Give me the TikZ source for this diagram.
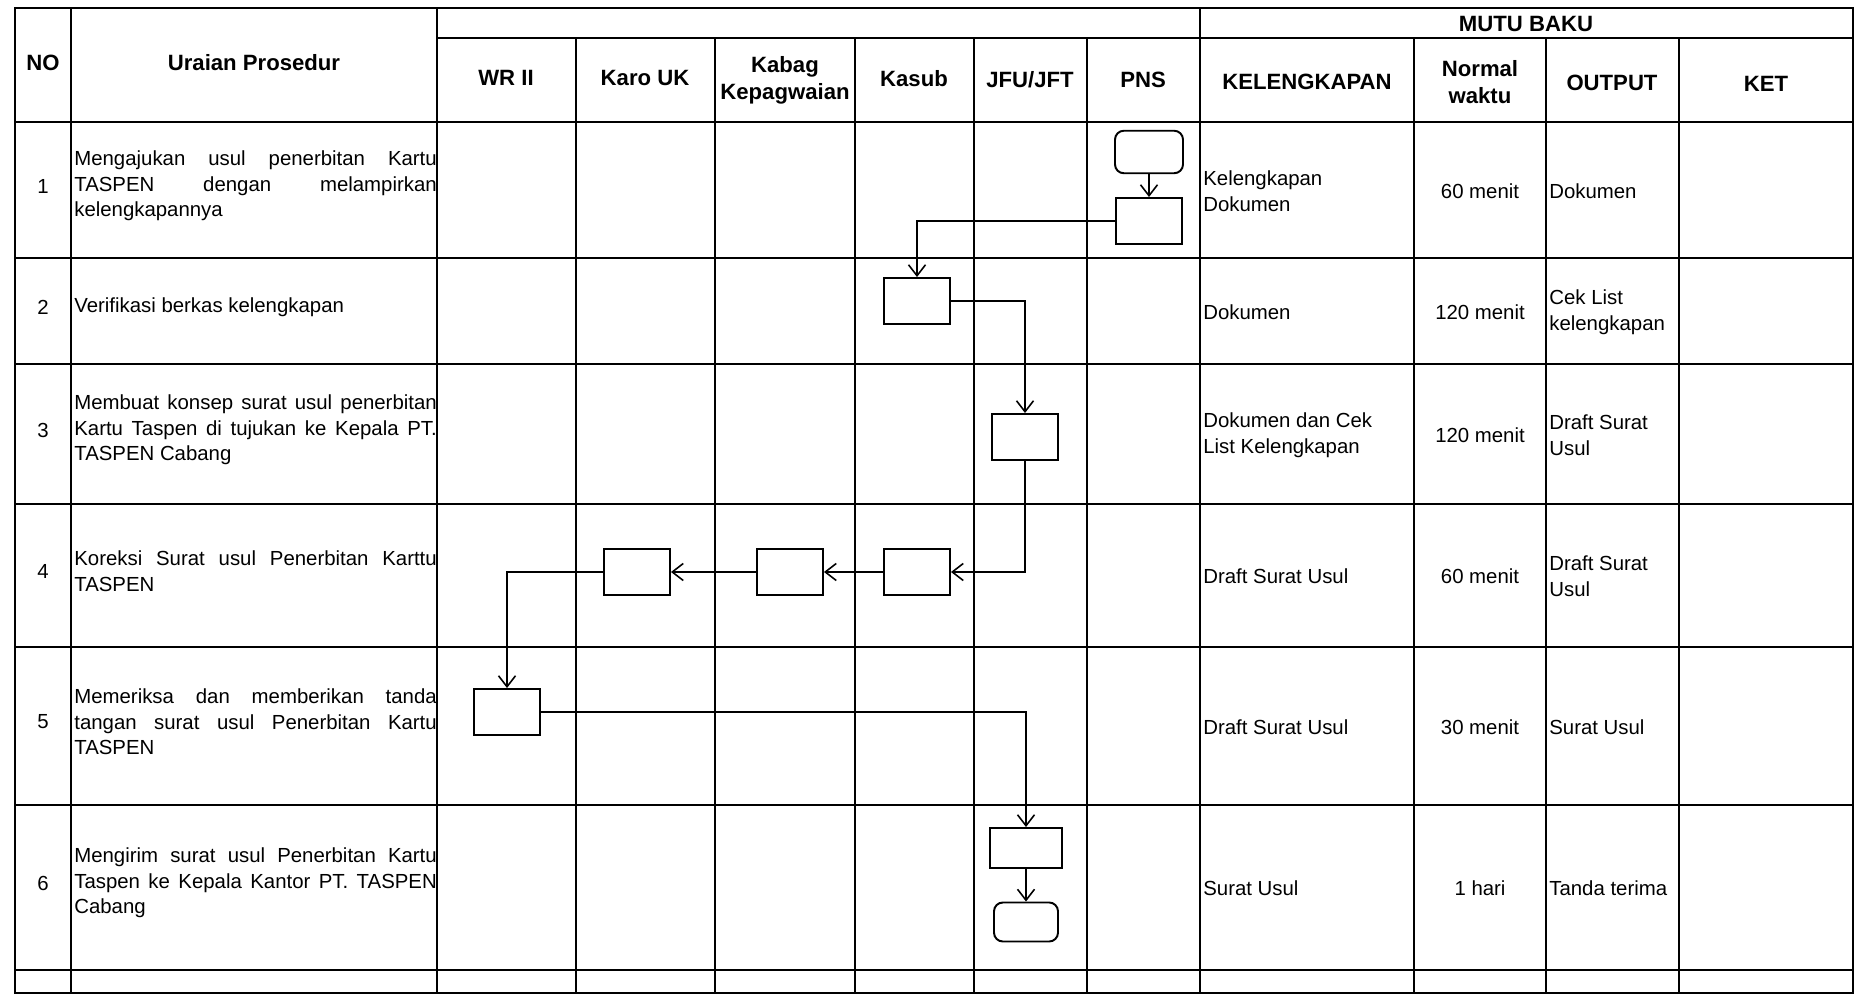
\documentclass[tikz,border=0pt]{standalone}
\usepackage{fontspec}
\setmainfont{Liberation Sans}
\usetikzlibrary{arrows.meta,positioning}
\hyphenpenalty=10000

\begin{document}
\begin{tikzpicture}[
    x=0.02cm, y=-0.02cm,
    grid/.style={line width=1.2pt},
    hd/.style={inner sep=0pt, align=center, font=\fontsize{12.6}{15.4}\selectfont\bfseries},
    cell/.style={inner sep=0pt, font=\fontsize{11.6}{14.5}\selectfont},
    desc/.style={cell, anchor=west, text width=7.25cm, align=justify},
    lft/.style={cell, anchor=west, align=left},
    ctr/.style={cell, align=center},
    act/.style={draw, line width=1.1pt, minimum width=1.32cm, minimum height=0.92cm},
    term/.style={draw, line width=1.1pt, rounded corners=5pt, minimum width=1.36cm, minimum height=0.85cm},
    arrow/.style={-{Straight Barb[length=2.2mm,width=3.4mm]}, line width=0.9pt}
]
\useasboundingbox (0,0) rectangle (1863,999);

% table
\draw[grid] (15,8) rectangle (1853,993);
\draw[grid] (437,38) -- (1853,38);
\draw[grid] (15,122) -- (1853,122);
\draw[grid] (15,258) -- (1853,258);
\draw[grid] (15,364) -- (1853,364);
\draw[grid] (15,504) -- (1853,504);
\draw[grid] (15,647) -- (1853,647);
\draw[grid] (15,805) -- (1853,805);
\draw[grid] (15,970) -- (1853,970);
\draw[grid] (71,8) -- (71,993);
\draw[grid] (437,8) -- (437,993);
\draw[grid] (576,38) -- (576,993);
\draw[grid] (715,38) -- (715,993);
\draw[grid] (855,38) -- (855,993);
\draw[grid] (974,38) -- (974,993);
\draw[grid] (1087,38) -- (1087,993);
\draw[grid] (1200,8) -- (1200,993);
\draw[grid] (1414,38) -- (1414,993);
\draw[grid] (1546,38) -- (1546,993);
\draw[grid] (1679,38) -- (1679,993);

% header
\node[hd] (hno) at (43,63) {NO};
\node[hd] (hur) at (254,63) {Uraian Prosedur};
\node[hd] (hmutu) at (1526,24) {MUTU BAKU};
\node[hd] (hwr) at (506,78) {WR II};
\node[hd] (hkaro) at (645,78) {Karo UK};
\node[hd] (hkabag) at (785,80) {Kabag\\Kepagwaian};
\node[hd] (hkasub) at (914,79) {Kasub};
\node[hd] (hjfu) at (1030,80) {JFU/JFT};
\node[hd] (hpns) at (1143,80) {PNS};
\node[hd] (hkel) at (1307,82) {KELENGKAPAN};
\node[hd] (hnorm) at (1480,82) {Normal\\waktu};
\node[hd] (hout) at (1612,83) {OUTPUT};
\node[hd] (hket) at (1766,84) {KET};

% rows
\node[ctr] (no1) at (43,186) {1};
\node[desc] (ur1) at (74,186) {Mengajukan usul penerbitan Kartu\linebreak TASPEN dengan melampirkan\linebreak kelengkapannya};
\node[lft] (kel1) at (1203,191) {Kelengkapan\\Dokumen};
\node[ctr] (nw1) at (1480,191) {60 menit};
\node[lft] (out1) at (1549,191) {Dokumen};

\node[ctr] (no2) at (43,307) {2};
\node[desc] (ur2) at (74,307) {Verifikasi berkas kelengkapan};
\node[lft] (kel2) at (1203,312) {Dokumen};
\node[ctr] (nw2) at (1480,312) {120 menit};
\node[lft] (out2) at (1549,312) {Cek List\\kelengkapan};

\node[ctr] (no3) at (43,430) {3};
\node[desc] (ur3) at (74,430) {Membuat konsep surat usul penerbitan\linebreak Kartu Taspen di tujukan ke Kepala PT.\linebreak TASPEN Cabang};
\node[lft] (kel3) at (1203,435) {Dokumen dan Cek\\List Kelengkapan};
\node[ctr] (nw3) at (1480,435) {120 menit};
\node[lft] (out3) at (1549,435) {Draft Surat\\Usul};

\node[ctr] (no4) at (43,571) {4};
\node[desc] (ur4) at (74,571) {Koreksi Surat usul Penerbitan Karttu\linebreak TASPEN};
\node[lft] (kel4) at (1203,576) {Draft Surat Usul};
\node[ctr] (nw4) at (1480,576) {60 menit};
\node[lft] (out4) at (1549,576) {Draft Surat\\Usul};

\node[ctr] (no5) at (43,722) {5};
\node[desc] (ur5) at (74,722) {Memeriksa dan memberikan tanda\linebreak tangan surat usul Penerbitan Kartu\linebreak TASPEN};
\node[lft] (kel5) at (1203,727) {Draft Surat Usul};
\node[ctr] (nw5) at (1480,727) {30 menit};
\node[lft] (out5) at (1549,727) {Surat Usul};

\node[ctr] (no6) at (43,883) {6};
\node[desc] (ur6) at (74,883) {Mengirim surat usul Penerbitan Kartu\linebreak Taspen ke Kepala Kantor PT. TASPEN\linebreak Cabang};
\node[lft] (kel6) at (1203,888) {Surat Usul};
\node[ctr] (nw6) at (1480,888) {1 hari};
\node[lft] (out6) at (1549,888) {Tanda terima};

% flow
\node[term] (start) at (1149,152) {};
\node[act] (pns1) at (1149,221) {};
\node[act] (kasub2) at (917,301) {};
\node[act] (jfu3) at (1025,437) {};
\node[act] (kasub4) at (917,572) {};
\node[act] (kabag4) at (790,572) {};
\node[act] (karo4) at (637,572) {};
\node[act] (wr5) at (507,712) {};
\node[act, minimum width=1.44cm, minimum height=0.8cm] (jfu6) at (1026,848) {};
\node[term, minimum width=1.28cm, minimum height=0.78cm] (finish) at (1026,922) {};

\draw[arrow] (start.south) -- (pns1.north);
\draw[arrow] (pns1.west) -| (kasub2.north);
\draw[arrow] (kasub2.east) -| (jfu3.north);
\draw[arrow] (jfu3.south) |- (kasub4.east);
\draw[arrow] (kasub4.west) -- (kabag4.east);
\draw[arrow] (kabag4.west) -- (karo4.east);
\draw[arrow] (karo4.west) -| (wr5.north);
\draw[arrow] (wr5.east) -| (jfu6.north);
\draw[arrow] (jfu6.south) -- (finish.north);
\end{tikzpicture}
\end{document}
